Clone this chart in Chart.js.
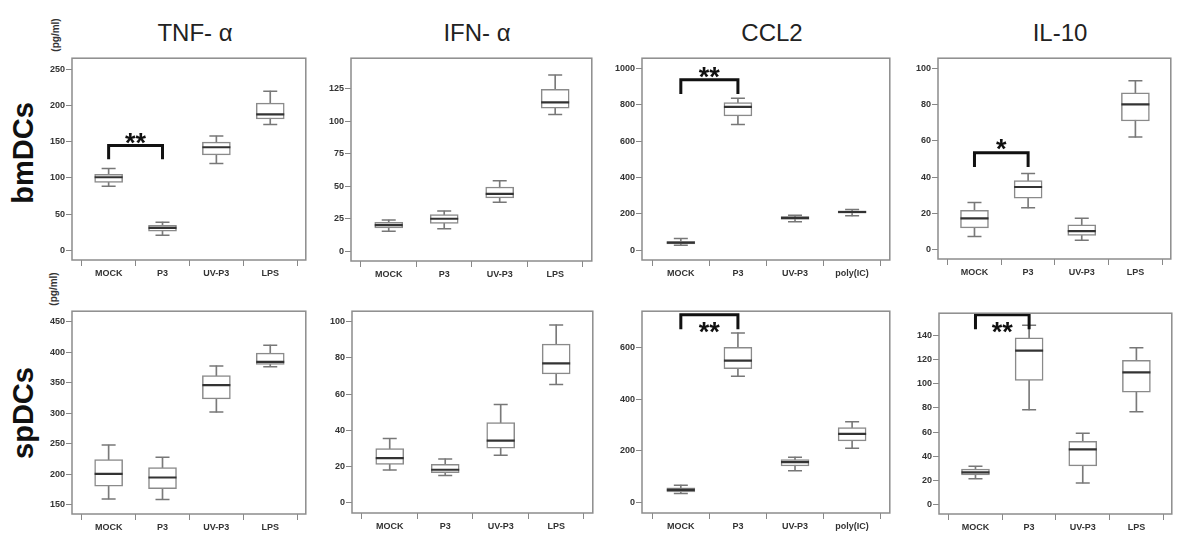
<!DOCTYPE html>
<html lang="en">
<head>
<meta charset="UTF-8">
<title>Citocinas bmDCs / spDCs</title>
<script src="https://cdn.jsdelivr.net/npm/chart.js"></script>
<style>
  body { margin:0; width:1200px; height:544px; background:#fff; position:relative; overflow:hidden;
         font-family:"Liberation Sans", Arial, sans-serif; }
  canvas { position:absolute; }
  .titulo { position:absolute; top:21px; width:200px; margin-left:-100px; text-align:center;
            font-size:24px; line-height:24px; color:#222; }
  .linha { position:absolute; font-weight:bold; font-size:29px; color:#111; white-space:nowrap;
           transform:translate(-50%,-50%) rotate(-90deg); }
  .unid { position:absolute; font-weight:bold; font-size:10px; color:#333; white-space:nowrap;
          transform:translate(-50%,-50%) rotate(-90deg); }
</style>
</head>
<body>
<div class="titulo" style="left:195px">TNF- α</div>
<div class="titulo" style="left:477px">IFN- α</div>
<div class="titulo" style="left:772px">CCL2</div>
<div class="titulo" style="left:1060px">IL-10</div>
<div class="linha" style="left:23px; top:153px">bmDCs</div>
<div class="linha" style="left:23px; top:413px">spDCs</div>
<div class="unid" style="left:55px; top:35px">(pg/ml)</div>
<div class="unid" style="left:53px; top:289px">(pg/ml)</div>

<script>
// categorias
const categoriasA = ['MOCK', 'P3', 'UV-P3', 'LPS'];
const categoriasB = ['MOCK', 'P3', 'UV-P3', 'poly(IC)'];

// cada linha: [min, q1, mediana, q3, max]
const tnfBm  = [[88.5, 94, 101, 105, 113], [21, 26.5, 31, 34.5, 39], [120, 132, 142.5, 149.5, 158], [174, 181.5, 188, 203.5, 220]];
const ifnBm  = [[15.3, 17.8, 20, 22.2, 23.9], [17.3, 21.4, 24.9, 28.1, 30.8], [37.5, 40.9, 44.1, 49.3, 54.2], [105, 110, 114.4, 124.5, 135.4]];
const ccl2Bm = [[28, 35, 42, 50, 65], [692, 739, 789, 812, 836], [158, 170, 179, 186, 193], [190, 204, 211, 218, 225]];
const il10Bm = [[7.1, 11.9, 17.2, 21.6, 26], [23, 28.3, 34.5, 38, 42], [5.1, 7.8, 10.1, 13.6, 17.2], [62.1, 71, 80.2, 86.5, 93.3]];
const tnfSp  = [[159.4, 180.4, 200.4, 224, 247.7], [158.4, 176.2, 194.6, 210.9, 227.7], [301.8, 323.4, 345.9, 361.7, 377.5], [376.4, 380.1, 384.3, 398.5, 411.6]];
const ifnSp  = [[18.1, 21.1, 24.6, 29.9, 35.4], [15, 16.6, 18.2, 21.2, 24.2], [26.2, 30.1, 34.3, 44.2, 54.3], [65.3, 71.2, 77, 87.6, 98.2]];
const ccl2Sp = [[36, 42, 49.5, 58, 68], [489, 518, 549, 600, 656], [124, 142, 157, 167, 176], [210, 239, 266, 290, 313]];
const il10Sp = [[21.3, 24.4, 26.6, 29.2, 31.6], [78.4, 102.8, 127.5, 138.2, 148.5], [17.8, 31.9, 45.7, 52.3, 59], [76.8, 93, 109.5, 119.6, 129.9]];

// significancia: de, ate, topo, perna, altura do texto, texto
const chaveTnfBm  = [0, 1, 145, 126, 157, '**'];
const chaveCcl2Bm = [0, 1, 937, 859, 986, '**'];
const chaveIl10Bm = [0, 1, 53.5, 45.5, 58.8, '*'];
const chaveCcl2Sp = [0, 1, 726, 670, 683, '**'];
const chaveIl10Sp = [0, 1, 157.3, 145.3, 148.5, '**'];

const paineis = [
  { frame: [72, 50, 318, 260],   y: [-13.3, 265.5], passo: 50,  cats: categoriasA, caixas: tnfBm,  chave: chaveTnfBm },
  { frame: [351, 50, 604, 261],  y: [-7.6, 148.4],  passo: 25,  cats: categoriasA, caixas: ifnBm,  chave: null },
  { frame: [642, 50, 902, 260],  y: [-52.8, 1056],  passo: 200, cats: categoriasB, caixas: ccl2Bm, chave: chaveCcl2Bm },
  { frame: [938, 50, 1183, 259], y: [-5.3, 105.7],  passo: 20,  cats: categoriasA, caixas: il10Bm, chave: chaveIl10Bm },
  { frame: [72, 303, 318, 514],  y: [134.7, 467.3], passo: 50,  cats: categoriasA, caixas: tnfSp,  chave: null },
  { frame: [352, 303, 605, 513], y: [-5.7, 105.8],  passo: 20,  cats: categoriasA, caixas: ifnSp,  chave: null },
  { frame: [642, 303, 902, 513], y: [-39.7, 740],   passo: 200, cats: categoriasB, caixas: ccl2Sp, chave: chaveCcl2Sp },
  { frame: [939, 305, 1184, 514],y: [-8, 158.6],    passo: 20,  cats: categoriasA, caixas: il10Sp, chave: chaveIl10Sp }
];

const fonteTick = { family: '"Liberation Sans", Arial, sans-serif', size: 9, weight: 'bold' };

// moldura e asteriscos
const moldura = {
  id: 'moldura',
  afterDatasetsDraw(chart) {
    const a = chart.chartArea, ctx = chart.ctx;
    ctx.save();
    ctx.strokeStyle = '#8c8c8c';
    ctx.lineWidth = 1.5;
    ctx.strokeRect(a.left, a.top, a.right - a.left, a.bottom - a.top);
    const c = chart.options.plugins.moldura.chave;
    if (c) {
      const x = (chart.scales.x.getPixelForValue(c[0]) + chart.scales.x.getPixelForValue(c[1])) / 2;
      const y = chart.scales.y.getPixelForValue(c[4]);
      ctx.font = 'bold 27px "Liberation Sans", Arial, sans-serif';
      ctx.fillStyle = '#111';
      ctx.textAlign = 'center';
      ctx.textBaseline = 'alphabetic';
      ctx.fillText(c[5], x, y + 0.57 * 27);
    }
    ctx.restore();
  }
};

function criarPainel(p) {
  const padL = 46, padT = 8, padR = 4, padB = 24;
  const w = p.frame[2] - p.frame[0] + padL + padR;
  const h = p.frame[3] - p.frame[1] + padT + padB;
  const cv = document.createElement('canvas');
  cv.width = w; cv.height = h;
  cv.style.width = w + 'px'; cv.style.height = h + 'px';
  cv.style.left = (p.frame[0] - padL) + 'px';
  cv.style.top = (p.frame[1] - padT) + 'px';
  document.body.appendChild(cv);

  const bigodes = p.caixas.map((c, i) => ({ x: i, y: [c[0], c[4]] }));
  const caixas = p.caixas.map((c, i) => ({ x: i, y: [c[1], c[3]] }));
  const medianas = p.caixas.map((c, i) => ({ x: i, y: c[2] }));
  const pontas = [];
  p.caixas.forEach((c, i) => { pontas.push({ x: i, y: c[0] }); pontas.push({ x: i, y: c[4] }); });

  const datasets = [
    { type: 'bar', data: bigodes, backgroundColor: '#7a7a7a', barThickness: 1, grouped: false, order: 5 },
    { type: 'bar', data: caixas, backgroundColor: '#fff', borderColor: '#8a8a8a', borderWidth: 1.5,
      borderSkipped: false, barThickness: 28, grouped: false, order: 4 },
    { type: 'line', data: pontas, showLine: false, pointStyle: 'line', pointRadius: 7,
      pointBorderWidth: 1.5, pointBorderColor: '#777', order: 3 },
    { type: 'line', data: medianas, showLine: false, pointStyle: 'line', pointRadius: 14,
      pointBorderWidth: 2.2, pointBorderColor: '#333', order: 2 }
  ];
  if (p.chave) {
    const c = p.chave;
    datasets.push({ type: 'line', data: [{ x: c[0], y: c[3] }, { x: c[0], y: c[2] }, { x: c[1], y: c[2] }, { x: c[1], y: c[3] }],
      borderColor: '#111', borderWidth: 3, pointRadius: 0, tension: 0, fill: false, order: 1, clip: false });
  }

  new Chart(cv.getContext('2d'), {
    type: 'bar',
    data: { datasets: datasets },
    options: {
      responsive: false,
      animation: false,
      layout: { padding: { top: padT, right: padR, left: 0, bottom: 0 } },
      plugins: { legend: { display: false }, tooltip: { enabled: false }, moldura: { chave: p.chave } },
      scales: {
        x: {
          type: 'linear', min: -0.68, max: 3.66, offset: false,
          afterBuildTicks: s => { s.ticks = [0, 1, 2, 3].map(v => ({ value: v })); },
          afterFit: s => { s.height = padB; },
          border: { display: false },
          grid: { drawOnChartArea: false, drawTicks: true, tickLength: 6, color: '#888', lineWidth: 1 },
          ticks: { font: fonteTick, color: '#333', padding: 2, autoSkip: false, maxRotation: 0,
                   callback: v => p.cats[v] }
        },
        y: {
          min: p.y[0], max: p.y[1],
          afterBuildTicks: s => {
            const t = [];
            for (let v = Math.ceil(p.y[0] / p.passo) * p.passo; v <= p.y[1]; v += p.passo) t.push({ value: v });
            s.ticks = t;
          },
          afterFit: s => { s.width = padL; },
          border: { display: false },
          grid: { drawOnChartArea: false, drawTicks: true, tickLength: 6, color: '#888', lineWidth: 1 },
          ticks: { font: fonteTick, color: '#333', padding: 1, autoSkip: false, callback: v => String(v) }
        }
      }
    },
    plugins: [moldura]
  });
}

paineis.forEach(criarPainel);
</script>
</body>
</html>
